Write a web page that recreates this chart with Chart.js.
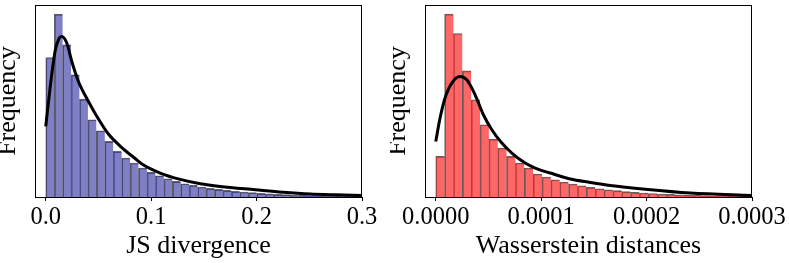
<!DOCTYPE html>
<html>
<head>
<meta charset="utf-8">
<script src="https://cdn.jsdelivr.net/npm/chart.js@4/dist/chart.umd.min.js"></script>
<style>
  html, body { margin: 0; padding: 0; background: #fff; }
  #wrapL { position: absolute; left: 0; top: 0; width: 390px; height: 263px; }
  #wrapR { position: absolute; left: 390px; top: 0; width: 399px; height: 263px; }
</style>
</head>
<body>
<div id="wrapL"><canvas id="cL"></canvas></div>
<div id="wrapR"><canvas id="cR"></canvas></div>
<script>
// ---------- data ----------
const jsBinWidth = 0.008;
const jsCounts = [139.6, 183, 152.3, 122.3, 98, 77.3, 66.3, 55.6, 45.6, 39, 34, 29, 24.6, 21.3, 18.3,
  15.6, 13.3, 11.6, 10, 8.6, 7.6, 6.6, 5.6, 5, 4.3, 3.7, 3.2, 2.7, 2.3, 2, 1.7, 1.4, 1.2, 1, 0.9, 0.8, 0.7, 0.6];
const jsKdeX = [0, 0.0041, 0.0088, 0.012, 0.0152, 0.020, 0.0247, 0.031, 0.0405, 0.050, 0.0594, 0.0722,
  0.0848, 0.092, 0.1085, 0.1275, 0.1465, 0.1655, 0.1988, 0.225, 0.251, 0.275, 0.3];
const jsKdeY = [70.6, 109, 145.6, 157.3, 160.6, 154, 135.6, 115.6, 95.6, 78, 63, 49.5,
  38.5, 32.5, 24, 17.6, 13.3, 10.6, 7.3, 4.8, 3, 2.2, 1.6];
const jsTicks = [0, 0.1, 0.2, 0.3];
const jsTickLabels = ['0.0', '0.1', '0.2', '0.3'];

const wBinWidth = 0.0000084;
const wCounts = [40.6, 183, 163.6, 126.3, 97.3, 72.3, 58, 49, 40.6, 34, 29, 23, 20, 17.3, 15, 13,
  11.3, 9.6, 8.3, 7.3, 6.3, 5.3, 4.6, 4, 3.5, 3, 2.6, 2.2, 1.9, 1.6, 1.4, 1.2, 1, 0.8, 0.7, 0.6];
const wKdeX = [0, 0.0000041, 0.0000088, 0.0000152, 0.0000231, 0.0000294, 0.0000373, 0.0000452,
  0.0000532, 0.0000627, 0.0000722, 0.0000848, 0.0000943, 0.0001086, 0.0001275, 0.0001465,
  0.0001655, 0.0001988, 0.0002415, 0.0003];
const wKdeY = [55.6, 79, 99, 114, 120.6, 117.3, 102.3, 82.3, 67.3, 54, 44, 34, 29, 24, 18, 14.6,
  11.6, 7.8, 4, 1.6];
const wTicks = [0, 0.0001, 0.0002, 0.0003];
const wTickLabels = ['0.0000', '0.0001', '0.0002', '0.0003'];

const xTitles = ['JS divergence', 'Wasserstein distances'];
const yTitle = 'Frequency';

// ---------- chart builder ----------
const frame = {
  id: 'frame',
  afterDraw(chart) {
    const a = chart.chartArea, ctx = chart.ctx;
    ctx.save();
    ctx.strokeStyle = '#000';
    ctx.lineWidth = 1;
    ctx.strokeRect(Math.round(a.left) + 0.5, Math.round(a.top) + 0.5,
      Math.round(a.right - a.left) - 1, Math.round(a.bottom - a.top));
    ctx.restore();
  }
};

function makeChart(id, binW, counts, kx, ky, ticks, tickLabels, xTitle, fill, padRight) {
  const bars = counts.map((c, i) => ({ x: (i + 0.5) * binW, y: c }));
  const kde = kx.map((x, i) => ({ x: x, y: ky[i] }));
  const xmin = -0.034 * ticks[ticks.length - 1];
  const ymax = 1.05 * Math.max(...counts);
  return new Chart(document.getElementById(id), {
    type: 'bar',
    data: {
      datasets: [
        { type: 'line', data: kde, borderColor: '#000', borderWidth: 3, pointRadius: 0,
          cubicInterpolationMode: 'monotone', fill: false, order: 0 },
        { type: 'bar', data: bars, backgroundColor: fill, borderColor: 'rgba(0,0,0,0.6)',
          borderWidth: { left: 1, top: 1, right: 0, bottom: 0 }, borderSkipped: false,
          barPercentage: 1, categoryPercentage: 1, order: 1 }
      ]
    },
    options: {
      responsive: true,
      maintainAspectRatio: false,
      animation: false,
      events: [],
      layout: { padding: { left: 0, top: 5, right: padRight, bottom: 0 } },
      plugins: { legend: { display: false }, tooltip: { enabled: false } },
      scales: {
        x: {
          type: 'linear', min: xmin, max: ticks[ticks.length - 1], offset: false,
          afterBuildTicks: s => { s.ticks = ticks.map(v => ({ value: v })); },
          afterFit: s => { s.height = 66; },
          ticks: {
            color: '#000', padding: 2, maxRotation: 0, autoSkip: false,
            font: { family: '"Liberation Serif", serif', size: 24.5 },
            callback: (v, i) => tickLabels[i]
          },
          grid: { display: true, offset: false, drawOnChartArea: false, drawTicks: true,
            tickLength: 4, color: '#000' },
          border: { display: true, color: '#000' },
          title: {
            display: true, text: xTitle, color: '#000',
            font: { family: '"Liberation Serif", serif', size: 26, lineHeight: 1 },
            padding: { top: 0, bottom: 4 }
          }
        },
        y: {
          type: 'linear', min: 0, max: ymax,
          afterFit: s => { s.width = 35; },
          ticks: { display: false },
          grid: { display: false },
          border: { display: true, color: '#000' },
          title: {
            display: true, text: yTitle, color: '#000',
            font: { family: '"Liberation Serif", serif', size: 26, lineHeight: 1 },
            padding: { top: -4.4, bottom: 0 }
          }
        }
      }
    },
    plugins: [frame]
  });
}

makeChart('cL', jsBinWidth, jsCounts, jsKdeX, jsKdeY, jsTicks, jsTickLabels, xTitles[0],
  'rgba(0,0,139,0.5)', 28);
makeChart('cR', wBinWidth, wCounts, wKdeX, wKdeY, wTicks, wTickLabels, xTitles[1],
  'rgba(255,0,0,0.6)', 37);
</script>
</body>
</html>
